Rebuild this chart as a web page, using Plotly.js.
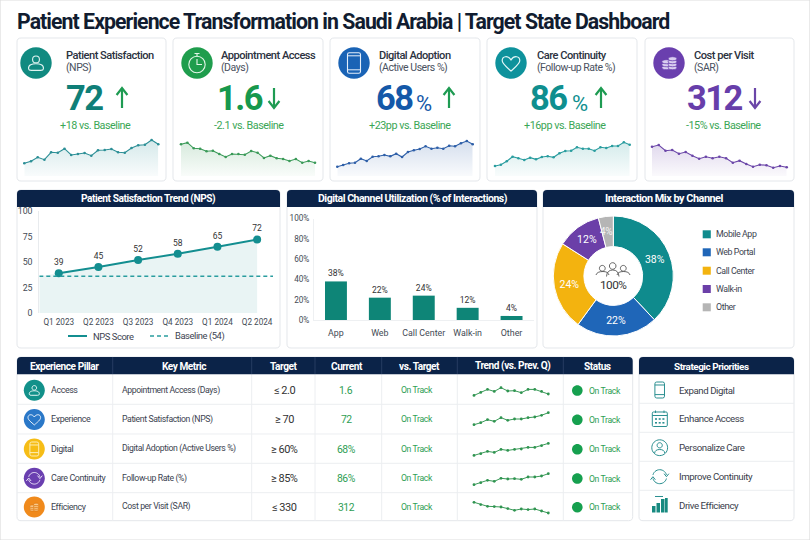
<!DOCTYPE html>
<html><head><meta charset="utf-8">
<script src="https://cdn.plot.ly/plotly-3.0.1.min.js"></script>
<style>html,body{margin:0;padding:0;background:#fff}#c{width:810px;height:540px}
.annotation-text,.xtick text,.ytick text{letter-spacing:-0.045em}</style></head>
<body><div id="c"></div>
<script>
const titleText='Patient Experience Transformation in Saudi Arabia | Target State Dashboard';
const kpiLabels=['Patient Satisfaction','Appointment Access','Digital Adoption','Care Continuity','Cost per Visit'];
const kpiSubs=['(NPS)','(Days)','(Active Users %)','(Follow-up Rate %)','(SAR)'];
const kpiValues=['72','1.6','68','86','312'];
const kpiUnits=['','','%','%',''];
const kpiDeltas=['+18 vs. Baseline','-2.1 vs. Baseline','+23pp vs. Baseline','+16pp vs. Baseline','-15% vs. Baseline'];
const sparkNps=[12.7,14.7,18.7,16.3,23.7,23.3,27.3,21,22,23,20.3,25.7,26,27,23.7,23.3,28,30.7,31.3,36,31.7];
const sparkAccess=[31.7,33.3,27.7,27.3,24.7,25.3,22,19,22,22,21.3,25,23.3,18,20.3,17.7,17,15,17,13.3,15,13.3];
const sparkDigital=[9.3,11,12.7,13.3,17.3,15,19.3,19.7,21,19.7,22.3,19,24,25.7,27,29.7,27.3,28.3,27.3,30.3,29.7,32.7,35,31.7];
const sparkCare=[10,11.3,14.7,19.3,17.7,16,18.3,16.7,19,19.7,18.7,22.7,25,25.3,28.7,27.3,27.3,25.3,28.7,28,30,30,33.7,31.3];
const sparkCost=[29.3,31,25.3,26,22.3,24,20.3,17.3,19.3,17.7,19.3,17.7,13.3,15.3,12,9.3,11.3,10.7,8.3,10,8.7];
const npsQuarters=['Q1 2023','Q2 2023','Q3 2023','Q4 2023','Q1 2024','Q2 2024'];
const npsScores=[39,45,52,58,65,72];
const npsBaselineDrawn=36;
const npsLegend=['NPS Score','Baseline (54)'];
const channelsShort=['App','Web','Call Center','Walk-in','Other'];
const channelsLong=['Mobile App','Web Portal','Call Center','Walk-in','Other'];
const channelShare=[38,22,24,12,4];
const tableHeaders=['Experience Pillar','Key Metric','Target','Current','vs. Target','Trend (vs. Prev. Q)','Status'];
const pillars=['Access','Experience','Digital','Care Continuity','Efficiency'];
const metrics=['Appointment Access (Days)','Patient Satisfaction (NPS)','Digital Adoption (Active Users %)','Follow-up Rate (%)','Cost per Visit (SAR)'];
const targets=['≤ 2.0','≥ 70','≥ 60%','≥ 85%','≤ 330'];
const currents=['1.6','72','68%','86%','312'];
const vsTarget=['On Track','On Track','On Track','On Track','On Track'];
const statuses=['On Track','On Track','On Track','On Track','On Track'];
const trendA=[1.3,4.3,7.3,5.3,9,5.7,6,4,7.3,7.3,5.3,2.7];
const trendB=[1.3,3.3,6.3,4.7,8.3,5.7,7,7,8.3,9,10.7,13.3];
const trendC=[1.3,3,5.3,4.3,7.3,6.3,7.3,7.7,9.3,9.3,11,13.3];
const trendD=[1.3,3.3,5.7,4.7,7.7,7,7.3,6.7,9,9,10,12.3];
const trendE=[12,9.7,8,7.7,7.3,5.7,4,5.3,4.7,5.3,3.3,1.3];
const priorities=['Expand Digital','Enhance Access','Personalize Care','Improve Continuity','Drive Efficiency'];

const W=810,H=540,FONT='Roboto, sans-serif';
const NAVY='#0b2348',GREEN='#2f9e54',INK='#33383f',BORD='#e4e7eb';
const shapes=[],ann=[],traces=[],layout={};
const P=(x,y)=>(x/W).toFixed(5)+','+(1-y/H).toFixed(5);
const M=(x,y)=>'M'+P(x,y), L=(x,y)=>'L'+P(x,y);
const C=(a,b,c,d,e,f)=>'C'+P(a,b)+' '+P(c,d)+' '+P(e,f);
const Q=(a,b,c,d)=>'Q'+P(a,b)+' '+P(c,d);
function ell(cx,cy,rx,ry){const k=.5523;return M(cx-rx,cy)+C(cx-rx,cy-k*ry,cx-k*rx,cy-ry,cx,cy-ry)+C(cx+k*rx,cy-ry,cx+rx,cy-k*ry,cx+rx,cy)+C(cx+rx,cy+k*ry,cx+k*rx,cy+ry,cx,cy+ry)+C(cx-k*rx,cy+ry,cx-rx,cy+k*ry,cx-rx,cy)+'Z';}
const circ=(x,y,r)=>ell(x,y,r,r);
function rr(a,b,c,d,r){return M(a+r,b)+L(c-r,b)+Q(c,b,c,b+r)+L(c,d-r)+Q(c,d,c-r,d)+L(a+r,d)+Q(a,d,a,d-r)+L(a,b+r)+Q(a,b,a+r,b)+'Z';}
function rt(a,b,c,d,r){return M(a+r,b)+L(c-r,b)+Q(c,b,c,b+r)+L(c,d)+L(a,d)+L(a,b+r)+Q(a,b,a+r,b)+'Z';}
function arc(cx,cy,r,a0,a1){let s='';for(let i=0;i<=14;i++){const t=(a0+(a1-a0)*i/14)*Math.PI/180;s+=(i?L:M)(cx+r*Math.cos(t),cy+r*Math.sin(t));}return s;}
function sh(path,o={}){shapes.push({type:'path',xref:'paper',yref:'paper',layer:'below',path,fillcolor:o.fill||'rgba(0,0,0,0)',line:{color:o.color||'rgba(0,0,0,0)',width:o.w===undefined?1:o.w,dash:o.dash||'solid'}});}
function T(text,x,y,o={}){ann.push({text,xref:'paper',yref:'paper',x:x/W,y:1-y/H,xanchor:o.a||'left',yanchor:'middle',showarrow:false,borderpad:0,borderwidth:0,align:o.a||'left',font:{family:o.f||FONT,size:o.s||10,color:o.c||INK,weight:o.w||400}});}
let axN=0;
function axes(x0,x1,y0,y1,xo,yo){axN++;const s=axN===1?'':axN;
 layout['xaxis'+s]=Object.assign({domain:[x0/W,x1/W],anchor:'y'+s,fixedrange:true},xo);
 layout['yaxis'+s]=Object.assign({domain:[1-y1/H,1-y0/H],anchor:'x'+s,fixedrange:true},yo);
 return ['x'+s,'y'+s];}
const hid={visible:false};

/* icons */
function person(cx,cy,s,c,w){sh(circ(cx,cy-.38*s,.36*s),{color:c,w});sh(M(cx-.78*s,cy+.62*s)+C(cx-.85*s,cy+.2*s,cx-.4*s,cy+.08*s,cx,cy+.08*s)+C(cx+.4*s,cy+.08*s,cx+.85*s,cy+.2*s,cx+.78*s,cy+.62*s)+Q(cx+.76*s,cy+.78*s,cx+.5*s,cy+.78*s)+L(cx-.5*s,cy+.78*s)+Q(cx-.76*s,cy+.78*s,cx-.78*s,cy+.62*s)+'Z',{color:c,w});}
function heart(cx,cy,s,c,w){sh(M(cx,cy+.85*s)+C(cx-.5*s,cy+.4*s,cx-s,cy+.05*s,cx-s,cy-.33*s)+C(cx-s,cy-.85*s,cx-.35*s,cy-.95*s,cx,cy-.42*s)+C(cx+.35*s,cy-.95*s,cx+s,cy-.85*s,cx+s,cy-.33*s)+C(cx+s,cy+.05*s,cx+.5*s,cy+.4*s,cx,cy+.85*s)+'Z',{color:c,w});}
function phone(cx,cy,hw,hh,c,w){sh(rr(cx-hw,cy-hh,cx+hw,cy+hh,1.8),{color:c,w});sh(M(cx-hw,cy-hh+3)+L(cx+hw,cy-hh+3)+M(cx-hw,cy+hh-3.4)+L(cx+hw,cy+hh-3.4),{color:c,w:Math.min(w,1)});}
function cycle(cx,cy,r,c,w){sh(arc(cx,cy,r,-165,-15),{color:c,w});sh(arc(cx,cy,r,15,165),{color:c,w});
 const a=(d,ox)=>{const t=d*Math.PI/180,x=cx+r*Math.cos(t),y=cy+r*Math.sin(t);sh(M(x-2.4*ox,y-1.2*ox)+L(x,y+1.8*ox)+L(x+2.4*ox,y-1.2*ox),{color:c,w});};a(-15,1);a(165,-1);}
function coins(cx,cy,s,fill,stroke){[[-.45,.55],[-.45,.2],[-.45,-.15],[.3,.55],[.3,.2],[.3,-.15],[.3,-.5]].forEach(p=>{sh(ell(cx+p[0]*s,cy+p[1]*s,.52*s,.24*s),{fill,color:stroke,w:.8});});}

sh(M(0,0)+L(810,0)+L(810,540)+L(0,540)+'Z',{color:'#dddddd',w:1.2});
T(titleText,17,21.5,{s:21.3,w:700,c:'#111c30'});

/* KPI cards */
const cardX=[[17,166],[173,323],[330,480],[487,637],[645,794]];
const circX=[36,197,354,511,669];
const labX=[66,221,379,537,694];
const circC=['#118a80','#1f9d4d','#1a63b5','#0e929c','#6a3fae'];
const numC=['#0f7f78','#17984d','#1458a8','#0f8f8f','#673eaa'];
const lineC=['#2c8f96','#3a9a58','#2e5fa8','#2a9d9f','#6b46a8'];
const rgb=['44,143,150','58,154,88','46,95,168','42,157,159','107,70,168'];
const numX=[[67,102],[220,259],[376,413],[528,569],[689,739]];
const arrX=[122,274,449,601,755];
const arrUp=[1,0,1,1,0];
const arrC=['#1e9b52','#1e9b52','#1e9b52','#1e9b52','#6b46a8'];
const delX=[95,249,410,565,723];
const sparks=[sparkNps,sparkAccess,sparkDigital,sparkCare,sparkCost];
const sparkX=[[24.3,158.3],[181,315],[337.3,472.7],[495,629.7],[652,786.7]];
kpiLabels.forEach((l,i)=>{
 sh(rr(cardX[i][0],38,cardX[i][1],181,4),{fill:'#fff',color:BORD});
 sh(circ(circX[i],63,15.7),{fill:circC[i]});
 T(l,labX[i],55,{s:11.1,w:500,c:'#2b3240'});
 T(kpiSubs[i],labX[i],68,{s:10.5,c:'#4a5160'});
 T(kpiValues[i],(numX[i][0]+numX[i][1])/2,98,{s:34.5,w:700,c:numC[i],a:'center'});
 if(kpiUnits[i])T(kpiUnits[i],numX[i][1]+3,103,{s:22,c:numC[i]});
 T(kpiDeltas[i],delX[i],125,{s:10.8,c:'#3aa655',a:'center'});
 const ax=arrX[i],c=arrC[i],u=arrUp[i],a0=u?108:88,a1=u?88:108,d=u?1:-1;
 sh(M(ax,a0)+L(ax,a1),{color:c,w:2.2});
 sh(M(ax-5.4,a1+d*7)+L(ax,a1)+L(ax+5.4,a1+d*7),{color:c,w:2.2});
 const [xa,ya]=axes(sparkX[i][0],sparkX[i][1],138,176,Object.assign({range:[0,sparks[i].length-1]},hid),Object.assign({range:[0,38]},hid));
 traces.push({type:'scatter',mode:'lines+markers',xaxis:xa,yaxis:ya,showlegend:false,cliponaxis:false,hoverinfo:'skip',
  x:sparks[i].map((_,k)=>k),y:sparks[i],line:{color:lineC[i],width:1.1},marker:{color:lineC[i],size:2.6},fill:'tozeroy',
  fillgradient:{type:'vertical',colorscale:[[0,'rgba('+rgb[i]+',0.03)'],[1,'rgba('+rgb[i]+',0.2)']]}});
});
/* KPI icons */
person(36,63,9.5,'#dff3f0',1.1);
sh(circ(197,64.5,8.2),{color:'#e3f6e8',w:1.1});sh(M(194.5,53.5)+L(199.5,53.5)+M(197,54)+L(197,56.3),{color:'#e3f6e8',w:1.1});sh(M(197,59)+L(197,64.5)+L(202,64.5),{color:'#e3f6e8',w:1.1});
phone(354,63,6.5,10.2,'#e4eefa',1.1);
heart(511,63.5,8.8,'#e2f6f7',1.2);
coins(670,63,8.5,'#d9cdf0','#6a3fae');

/* mid panels */
[[17,280,'Patient Satisfaction Trend (NPS)',148.5,10.2],[287,537,'Digital Channel Utilization (% of Interactions)',413,10.5],[543,794,'Interaction Mix by Channel',664,10.9]].forEach(p=>{
 sh(rr(p[0],190,p[1],348,4),{fill:'#fff',color:BORD});
 sh(rt(p[0],190,p[1],207,4),{fill:NAVY});
 T(p[2],p[3],198.7,{s:p[4],w:700,c:'#fff',a:'center'});
});
const axisText={family:FONT,size:8.2,color:'#444b55'};
/* chart 1 */
{const idx=npsQuarters.map((_,i)=>i);
 const [xa,ya]=axes(39.3,273,211,313,
 {range:[-.49,5.4],tickvals:idx,ticktext:npsQuarters,showgrid:false,zeroline:false,showline:false,ticks:'',tickfont:axisText,ticklabelstandoff:3},
 {range:[0,100],tickvals:[0,25,50,75,100],showgrid:false,zeroline:false,showline:true,linecolor:'#e8ebee',ticks:'',tickfont:Object.assign({},axisText,{size:8.8}),ticklabelstandoff:4},);
 traces.push({type:'scatter',mode:'none',xaxis:xa,yaxis:ya,x:[-.49].concat(idx),y:[npsBaselineDrawn].concat(npsScores),fill:'tozeroy',fillcolor:'#e9f4f4',showlegend:false,hoverinfo:'skip'});
 traces.push({type:'scatter',mode:'lines',name:npsLegend[0],xaxis:xa,yaxis:ya,x:idx,y:npsScores,line:{color:'#138e90',width:2},hoverinfo:'skip',showlegend:false});
 traces.push({type:'scatter',mode:'markers+text',xaxis:xa,yaxis:ya,x:idx,y:npsScores,showlegend:false,text:npsScores.map(String),textposition:'top center',textfont:{family:FONT,size:8.5,color:'#333'},marker:{color:'#138e90',size:8},hoverinfo:'skip',cliponaxis:false});
 traces.push({type:'scatter',mode:'lines',name:npsLegend[1],xaxis:xa,yaxis:ya,x:[-.49,5.4],y:[npsBaselineDrawn,npsBaselineDrawn],line:{color:'#2a9d9f',width:1.4,dash:'4px,3px'},hoverinfo:'skip',showlegend:false});
 sh(M(68,336)+L(87,336),{color:'#138e90',w:2});
 sh(M(150,336)+L(170,336),{color:'#2a9d9f',w:1.4,dash:'4px,3px'});
 T(npsLegend[0],93,336,{s:9.4,c:'#3c4350'});
 T(npsLegend[1],175,336,{s:9.4,c:'#3c4350'});
}
/* chart 2 */
{const idx=channelsShort.map((_,i)=>i);
 const pct=[0,20,40,60,80,100];
 const [xa,ya]=axes(314,533.5,218.5,320,
 {range:[-.5,4.5],tickvals:idx,ticktext:channelsShort,showgrid:false,zeroline:false,showline:true,linecolor:'#eef0f2',ticks:'',tickfont:Object.assign({},axisText,{size:8.9}),ticklabelstandoff:4},
 {range:[0,100],tickvals:pct,ticktext:pct.map(v=>v+'%'),showgrid:false,zeroline:false,showline:true,linecolor:'#eef0f2',ticks:'',tickfont:axisText,ticklabelstandoff:2});
 traces.push({type:'bar',xaxis:xa,yaxis:ya,x:idx,y:channelShare,width:.5,marker:{color:'#0e8577'},text:channelShare.map(v=>v+'%'),textposition:'outside',cliponaxis:false,textangle:0,textfont:{family:FONT,size:8.5,color:'#333'},showlegend:false,hoverinfo:'skip'});
}
/* donut */
const pieColors=['#0f8b8d','#1f66b8','#f3b30f','#6b3fa8','#b5b5b5'];
traces.push({type:'pie',labels:channelsLong,values:channelShare,hole:.49,sort:false,direction:'clockwise',rotation:0,showlegend:false,
 domain:{x:[553.3/W,673.3/W],y:[1-336/H,1-216/H]},marker:{colors:pieColors,line:{color:'#fff',width:1}},
 textinfo:'text',text:channelShare.map(v=>v>=10?v+'%':''),textposition:'inside',insidetextorientation:'horizontal',textfont:{family:FONT,size:10.5,color:'#fff'},hoverinfo:'skip',automargin:false});
T(channelShare[4]+'%',606,231,{s:10,a:'center',c:'#f2f2f2'});
T('100%',613,285,{s:11.8,a:'center',c:'#333'});
[[602.3,268.3,2.9],[612.7,266,3.3],[623.3,268.3,2.9]].forEach(p=>{sh(circ(p[0],p[1],p[2]),{color:'#555',w:.9});});
[[596,603,609],[617,623.5,630]].forEach(p=>{sh(M(p[0],275)+Q(p[0]+1,271.5,p[1],271.5)+Q(p[2]-1,271.5,p[2],275),{color:'#555',w:.9});});
sh(M(606.5,276.5)+Q(607,270,612.7,270)+Q(618.5,270,619,276.5),{color:'#555',w:.9});
const legY=[234.3,252.3,270.7,289,307.3];
channelsLong.forEach((n,i)=>{const y=legY[i];sh(M(702.7,y-4)+L(710.8,y-4)+L(710.8,y+4)+L(702.7,y+4)+'Z',{fill:pieColors[i]});T(n,716,y,{s:8.8,c:'#3c4350'});});

/* table */
const rowSep=[374.3,404.3,434,463.3,492.7,520.7];
const rowY=[390,419.3,448.7,478,506.7];
const colSep=[112.7,251.7,315,381.7,457.3,563.3];
sh(rr(17,357,632.7,520.7,4),{fill:'#fff',color:BORD});
sh(rt(17,357,632.7,374.3,4),{fill:NAVY});
rowSep.slice(1,5).forEach(y=>sh(M(17,y)+L(632.7,y),{color:'#eceef1',w:1}));
colSep.forEach(x=>{sh(M(x,374.3)+L(x,520.7),{color:'#eceef1',w:1});sh(M(x,357)+L(x,374.3),{color:'#2d4368',w:.8});});
[64.5,183.8,283.7,347.3,419,512.7,597].forEach((x,i)=>T(tableHeaders[i],x,366.3,{s:10.1,w:700,c:'#fff',a:'center'}));
const iconC=['#12918a','#2a78c8','#f6bd16','#6a3fb0','#f08a1c'];
const trends=[trendA,trendB,trendC,trendD,trendE];
const trendBottom=[396.7,426,456.7,486,514.3];
pillars.forEach((p,i)=>{const y=rowY[i];
 sh(circ(34.3,y+.3,10.5),{fill:iconC[i]});
 T(p,51,y,{s:8.9,c:'#3c4350'});
 T(metrics[i],122.3,y,{s:8.7,c:'#3c4350'});
 T(targets[i],284,y+.5,{s:11,c:'#333',a:'center'});
 T(currents[i],346,y+.5,{s:10.4,c:GREEN,a:'center'});
 T(vsTarget[i],417.3,y,{s:8.7,c:GREEN,a:'center'});
 sh(circ(577.3,y+.5,5.3),{fill:'#16a04f'});
 T(statuses[i],588.7,y+.5,{s:8.7,c:GREEN});
 const [xa,ya]=axes(474,548.3,trendBottom[i]-16,trendBottom[i],Object.assign({range:[0,trends[i].length-1]},hid),Object.assign({range:[0,16]},hid));
 traces.push({type:'scatter',mode:'lines+markers',xaxis:xa,yaxis:ya,x:trends[i].map((_,k)=>k),y:trends[i],line:{color:'#3a9a58',width:1},marker:{color:'#2f9450',size:2.8},showlegend:false,hoverinfo:'skip',cliponaxis:false});
});
person(34.3,390.3,6.4,'#e5f6f4',1);
heart(34.3,419.6,6.3,'#e8f1fb',1);
phone(34.3,449,4.4,7,'#fdeeb5',1);
cycle(34.3,478.3,5.8,'#e8e0f7',1);
coins(34.6,507,5.2,'#f9c98c','#e07b10');

/* priorities */
sh(rr(639,357,794,520.7,4),{fill:'#fff',color:BORD});
sh(rt(639,357,794,374.3,4),{fill:NAVY});
T('Strategic Priorities',711,366.3,{s:9.9,w:700,c:'#fff',a:'center'});
[403.3,432.3,461.3,490.3].forEach(y=>sh(M(639,y)+L(794,y),{color:'#eceef1',w:1}));
[390,418.7,447.7,476.7,505.7].forEach((y,i)=>T(priorities[i],679,y,{s:9.7,c:'#3a404b'}));
const TE='#2a8f90';
phone(659.7,390,4.8,8,TE,1);
sh(rr(652.3,412,667.3,426.5,1.2),{color:TE,w:1});sh(M(652.3,415.5)+L(667.3,415.5)+M(655.5,410.5)+L(655.5,413)+M(664,410.5)+L(664,413),{color:TE,w:1});
[[656,419],[659.7,419],[663.4,419],[656,422.8],[659.7,422.8],[663.4,422.8]].forEach(p=>sh(M(p[0]-1,p[1]-.8)+L(p[0]+1,p[1]-.8)+L(p[0]+1,p[1]+.8)+L(p[0]-1,p[1]+.8)+'Z',{fill:TE}));
sh(circ(659.7,447.7,7.9),{color:TE,w:1});sh(circ(659.7,445.3,2.6),{color:TE,w:1});
sh(M(654.6,453.2)+Q(655,449.5,659.7,449.5)+Q(664.4,449.5,664.8,453.2),{color:TE,w:1});
cycle(659.7,476.7,7,TE,1);
[[652,506,655.5],[656.5,503,660],[661,499,664.5],[665,498,667.7]].forEach(b=>{sh(M(b[0],b[1])+L(b[2],b[1])+L(b[2],512.5)+L(b[0],512.5)+'Z',{fill:'#178a80'});});
sh(M(655,496.5)+L(663,496.5),{color:TE,w:1});

Object.assign(layout,{width:W,height:H,margin:{l:0,r:0,t:0,b:0,pad:0},paper_bgcolor:'#fff',plot_bgcolor:'rgba(0,0,0,0)',autosize:false,
 hovermode:false,dragmode:false,shapes,annotations:ann,showlegend:false});
Plotly.newPlot('c',traces,layout,{displayModeBar:false,staticPlot:true});
</script></body></html>
